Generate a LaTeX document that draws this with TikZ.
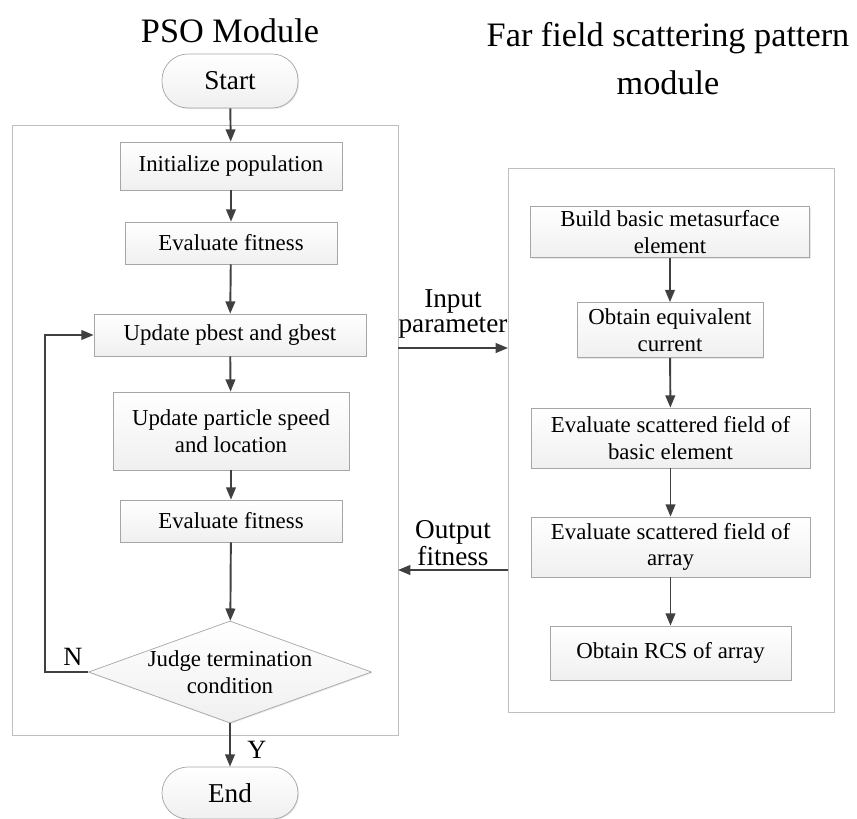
\documentclass[tikz,border=0pt]{standalone}
\usepackage{fontspec}
\setmainfont{Liberation Serif}
\usepackage{xcolor}
\usepackage{tikz}
\usetikzlibrary{arrows.meta,shapes.geometric,shadows,calc}
\definecolor{linedark}{HTML}{404040}
\definecolor{boxedge}{HTML}{A6A6A6}
\definecolor{panelgray}{HTML}{BFBFBF}
\tikzset{every node/.append style={font=\fontsize{13}{15}\selectfont,text=black},
  stepbox/.style={draw=boxedge,top color=white,bottom color=gray!12,align=center,inner sep=1pt,
    drop shadow={opacity=.18,shadow xshift=.6pt,shadow yshift=-.6pt}},
  terminal/.style={stepbox,rounded corners=.52cm,minimum width=2.72cm,font=\fontsize{15.5}{17}\selectfont},
  judgebox/.style={stepbox,diamond,aspect=2.8,inner sep=0pt},
  flow/.style={-{Triangle[length=7pt,width=5.5pt]},linedark,line width=1.1pt},
  title/.style={font=\fontsize{19.5}{27}\selectfont,align=center},
  xlabel/.style={align=center,font=\fontsize{15.5}{14.2}\selectfont,inner sep=2pt},
  yn/.style={font=\fontsize{15}{15}\selectfont}}

\begin{document}
\begin{tikzpicture}
\useasboundingbox (0,0) rectangle (17.14,-16.36);
\node[title] (ttlA) at (4.6,-.62) {PSO Module};
\node[title] (ttlB) at (13.36,-1.17) {Far field scattering pattern\\module};
% panels
\draw[panelgray] (.24,-2.5) rectangle (7.96,-14.7);
\draw[panelgray] (10.16,-3.36) rectangle (16.68,-14.24);
% PSO side
\node[terminal,minimum height=1.08cm] (start) at (4.6,-1.62) {Start};
\node[stepbox,minimum width=4.44cm,minimum height=.96cm] (init) at (4.62,-3.32) {Initialize population};
\node[stepbox,minimum width=4.24cm,minimum height=.84cm] (evalA) at (4.62,-4.86) {Evaluate fitness};
\node[stepbox,minimum width=5.44cm,minimum height=.84cm] (upd) at (4.6,-6.7) {Update pbest and gbest};
\node[stepbox,minimum width=4.72cm,minimum height=1.56cm] (speed) at (4.62,-8.62) {Update particle speed\\and location};
\node[stepbox,minimum width=4.44cm,minimum height=.84cm] (evalB) at (4.62,-10.42) {Evaluate fitness};
\node[judgebox,minimum width=5.66cm,minimum height=2.04cm] (judge) at (4.6,-13.44) {Judge termination\\condition};
\node[terminal,minimum height=1.04cm] (end) at (4.6,-15.86) {End};
\draw[flow] (start) -- (init);
\draw[flow] (init) -- (evalA);
\draw[flow] (evalA) -- (upd);
\draw[flow] (upd) -- (speed);
\draw[flow] (speed) -- (evalB);
\draw[flow] (evalB) -- (judge);
\draw[flow] (judge) -- (end) node[pos=.5,right=6pt,yn,yshift=-3pt] {Y};
\draw[flow] (judge.west) -- (.9,-13.44) node[pos=.35,above,yn] {N} |- (upd.west);
% far field side
\node[stepbox,minimum width=5.58cm,minimum height=1.02cm] (build) at (13.4,-4.64) {Build basic metasurface\\element};
\node[stepbox,minimum width=3.72cm,minimum height=1.1cm] (curr) at (13.4,-6.6) {Obtain equivalent\\current};
\node[stepbox,minimum width=5.58cm,minimum height=1.2cm] (scatE) at (13.41,-8.76) {Evaluate scattered field of\\basic element};
\node[stepbox,minimum width=5.58cm,minimum height=1.2cm] (scatA) at (13.41,-10.94) {Evaluate scattered field of\\array};
\node[stepbox,minimum width=4.82cm,minimum height=1.08cm] (rcs) at (13.41,-13.06) {Obtain RCS of array};
\draw[flow] (build) -- (curr);
\draw[flow] (curr) -- (scatE);
\draw[flow] (scatE) -- (scatA);
\draw[flow] (scatA) -- (rcs);
% data exchange
\coordinate (inL) at (7.96,-6.96); \coordinate (inR) at (10.16,-6.96);
\coordinate (outL) at (7.96,-11.4); \coordinate (outR) at (10.16,-11.4);
\draw[flow] (inL) -- (inR) node[midway,above,xlabel,yshift=3pt] {Input\\parameter};
\draw[flow] (outR) -- (outL) node[midway,above,xlabel] {Output\\fitness};
\end{tikzpicture}
\end{document}
